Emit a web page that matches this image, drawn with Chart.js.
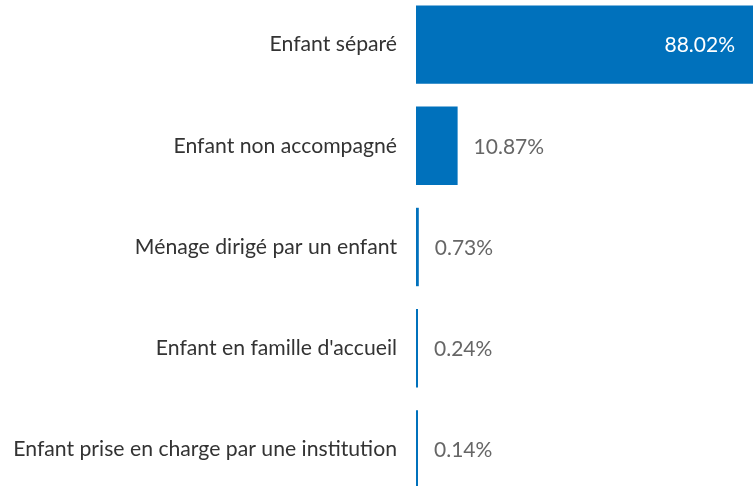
<!DOCTYPE html>
<html>
<head>
<meta charset="utf-8">
<script src="https://cdn.jsdelivr.net/npm/chart.js@4/dist/chart.umd.min.js"></script>
<style>
  html, body { margin: 0; padding: 0; background: #fff; overflow: hidden; }
  #wrap { position: absolute; left: 0; top: -6px; width: 753px; height: 506px; }
</style>
</head>
<body>
<div id="wrap"><canvas id="chart"></canvas></div>
<script>
// Categories and shares (%)
const categories = [
    'Enfant séparé',
    'Enfant non accompagné',
    'Ménage dirigé par un enfant',
    "Enfant en famille d'accueil",
    'Enfant prise en charge par une institution'
];
const shares = [88.02, 10.87, 0.73, 0.24, 0.14];

// Draws the percentage next to (or inside) each bar
const valueLabels = {
    id: 'valueLabels',
    afterDatasetsDraw(chart) {
        const ctx = chart.ctx;
        const meta = chart.getDatasetMeta(0);
        ctx.save();
        ctx.font = '21px Lato';
        ctx.textBaseline = 'middle';
        meta.data.forEach((bar, i) => {
            const text = shares[i].toFixed(2) + '%';
            if (bar.x - bar.base > 150) {
                ctx.fillStyle = '#ffffff';
                ctx.textAlign = 'right';
                ctx.fillText(text, bar.x - 18, bar.y + 1);
            } else {
                ctx.fillStyle = '#666666';
                ctx.textAlign = 'left';
                ctx.fillText(text, Math.max(bar.x, bar.base + 2) + 16, bar.y + 1);
            }
        });
        ctx.restore();
    }
};

new Chart(document.getElementById('chart'), {
    type: 'bar',
    data: {
        labels: categories,
        datasets: [{
            data: shares,
            backgroundColor: '#0071bc',
            barPercentage: 0.775,
            categoryPercentage: 1,
            minBarLength: 2
        }]
    },
    options: {
        indexAxis: 'y',
        responsive: true,
        maintainAspectRatio: false,
        animation: false,
        layout: { padding: 0 },
        plugins: {
            legend: { display: false },
            tooltip: { enabled: false }
        },
        scales: {
            x: {
                display: false,
                min: 0,
                max: 88.02
            },
            y: {
                grid: { display: false, drawTicks: false },
                border: { display: false },
                ticks: {
                    color: '#333333',
                    padding: 19,
                    font: { family: 'Lato', size: 21.2 }
                },
                afterFit(scale) {
                    scale.width = 416;
                    scale.paddingTop = 0;
                    scale.paddingBottom = 0;
                }
            }
        }
    },
    plugins: [valueLabels]
});
</script>
</body>
</html>
